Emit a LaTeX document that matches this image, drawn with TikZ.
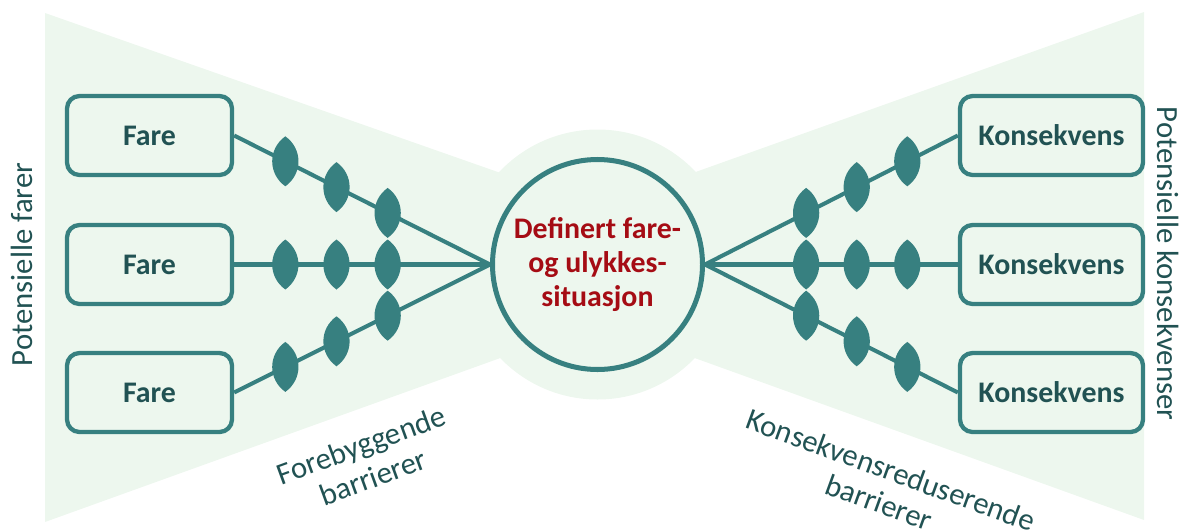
\documentclass[tikz,border=0pt]{standalone}
\usepackage{fontspec}
\setmainfont{Carlito}
\usetikzlibrary{positioning}
\definecolor{bgreen}{RGB}{237,247,238}
\definecolor{tealline}{RGB}{55,128,128}
\definecolor{tealtext}{RGB}{33,82,83}
\definecolor{sitred}{RGB}{165,12,20}
\begin{document}
\begin{tikzpicture}[
  box/.style={draw=tealline,line width=2.45pt,rounded corners=0.25cm,minimum height=1.58cm,
    font=\fontsize{17}{20}\selectfont\bfseries,text=tealtext},
  link/.style={draw=tealline,line width=2.3pt},
  lbl/.style={font=\fontsize{17.5}{19.5}\selectfont,text=tealtext,align=center},
  barrier/.pic={\fill[tealline] (0,0.5) .. controls (0.35,0.25) and (0.35,-0.25) .. (0,-0.5)
    .. controls (-0.35,-0.25) and (-0.35,0.25) .. cycle;}
]
\useasboundingbox (0,0) rectangle (23.68,10.58);
\fill[bgreen] (0.9,10.32)--(11.95,6.44)--(11.95,4.12)--(0.9,0.14)--cycle;
\fill[bgreen] (22.88,10.34)--(11.95,6.44)--(11.95,4.12)--(22.88,0.18)--cycle;
\fill[bgreen] (11.95,5.29) circle (2.7);
\node[circle,draw=tealline,line width=2.85pt,minimum size=4.2cm,inner sep=0pt,align=center,
  text=sitred,font=\fontsize{17}{19.5}\selectfont\bfseries] (sit) at (11.95,5.29)
  {Definert fare-\\og ulykkes-\\situasjon};
\foreach \i/\y in {1/7.87,2/5.29,3/2.73}{
  \node[box,minimum width=3.3cm] (f\i) at (2.99,\y) {Fare};
  \node[box,minimum width=3.66cm] (k\i) at (21.03,\y) {Konsekvens};
  \draw[link] (f\i.east)-- coordinate[pos=.2](a\i1) coordinate[pos=.4](a\i2) coordinate[pos=.6](a\i3) (sit.west);
  \draw[link] (k\i.west)-- coordinate[pos=.2](b\i1) coordinate[pos=.4](b\i2) coordinate[pos=.6](b\i3) (sit.east);
}
\foreach \i in {1,2,3}\foreach \j in {1,2,3}{
  \pic at (a\i\j) {barrier};
  \pic at (b\i\j) {barrier};
}
\node[lbl,rotate=90] (pf) at (0.44,5.29) {Potensielle farer};
\node[lbl,rotate=-90] (pk) at (23.36,5.31) {Potensielle konsekvenser};
\node[lbl,rotate=20] (fb) at (7.34,1.36) {Forebyggende\\barrierer};
\node[lbl,rotate=-20] (kb) at (17.7,0.86) {Konsekvensreduserende\\barrierer};
\end{tikzpicture}
\end{document}
